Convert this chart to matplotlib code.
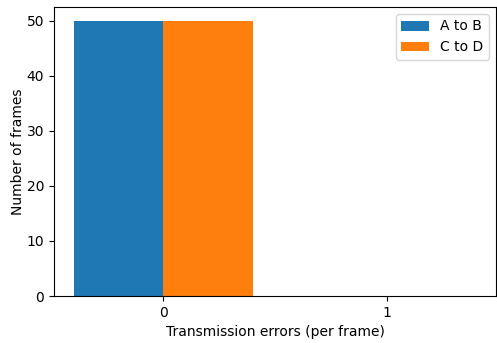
import numpy as np
import matplotlib
matplotlib.use("Agg")
import matplotlib.pyplot as plt

# Histogram of transmission errors per frame for two links
errors = [0, 1]
a_to_b = [50, 0]
c_to_d = [50, 0]
series_labels = ["A to B", "C to D"]

x = np.arange(len(errors))
width = 0.4

fig = plt.figure(figsize=(4.97, 3.43), dpi=100)
ax = fig.add_axes([54 / 497, 1 - 296 / 343, 442 / 497, 289 / 343])

ax.bar(x - width / 2, a_to_b, width, color="#1f77b4", label=series_labels[0])
ax.bar(x + width / 2, c_to_d, width, color="#ff7f0e", label=series_labels[1])

ax.set_xticks(x)
ax.set_xticklabels([str(e) for e in errors])
ax.set_xlabel("Transmission errors (per frame)")
ax.set_ylabel("Number of frames", labelpad=1.5)
ax.legend(loc="upper right")

fig.savefig("out.png", dpi=100)
